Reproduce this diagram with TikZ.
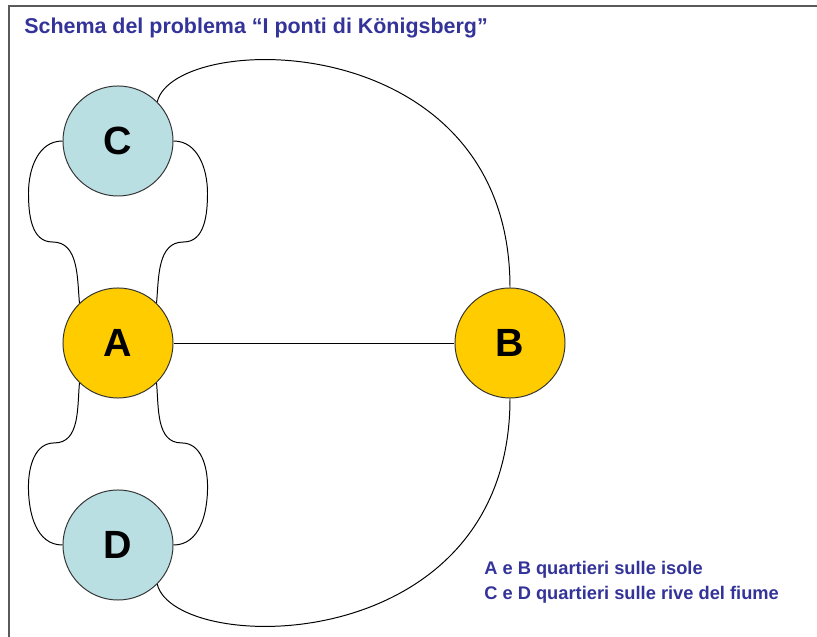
\documentclass[tikz,border=0pt]{standalone}
\usepackage{xcolor}
\usepackage{fontspec}
\setmainfont{Liberation Sans}
\usepackage{tikz}
\usetikzlibrary{positioning,calc}
\definecolor{titleBlue}{RGB}{51,51,153}
\definecolor{isleGold}{RGB}{255,204,0}
\definecolor{bankCyan}{RGB}{185,223,227}
\definecolor{frameGray}{RGB}{90,90,90}
\tikzset{
  isle/.style={draw=black!80,circle,minimum size=2.75cm,inner sep=0pt,line width=0.7pt,
               fill=isleGold,font=\fontsize{28}{30}\selectfont\bfseries},
  bank/.style={draw=black!80,circle,minimum size=2.75cm,inner sep=0pt,line width=0.7pt,
               fill=bankCyan,font=\fontsize{28}{30}\selectfont\bfseries},
  bridge/.style={line width=0.7pt,black},
  legend/.style={anchor=base west,inner sep=0pt,text=titleBlue,
                 font=\fontsize{13}{15}\selectfont\bfseries},
}

\begin{document}
\begin{tikzpicture}[x=0.025cm,y=0.025cm]
  \useasboundingbox (0,0) rectangle (817,637);
  % frame
  \draw[frameGray,line width=1.4pt](9,0)--(9,631)--(817,631);
  \node[anchor=base west,inner sep=0pt,text=titleBlue,
        font=\fontsize{15.25}{17}\selectfont\bfseries] (title) at (24,603)
        {Schema del problema “I ponti di Königsberg”};

  % quartieri
  \node[bank] (C) at (118,496){C};
  \node[isle] (A) at (118,294){A};
  \node[bank] (D) at (118,92){D};
  \node[isle] (B) at (510,294){B};

  % ponti
  \draw[bridge](A)--(B);
  \draw[bridge](C.180) to[out=180,in=90] ++(-34,-52) to[out=-90,in=180] ++(24,-49)
               to[out=0,in=95] (A.134);
  \draw[bridge](C.0) to[out=0,in=90] ++(34,-52) to[out=-90,in=0] ++(-24,-49)
               to[out=180,in=85] (A.46);
  \draw[bridge](A.226) to[out=265,in=0] ++(-25,-60) to[out=180,in=90] ++(-26,-44)
               to[out=-90,in=180] (D.180);
  \draw[bridge](A.-46) to[out=275,in=180] ++(25,-60) to[out=0,in=90] ++(26,-44)
               to[out=-90,in=0] (D.0);
  \draw[bridge](C.45) .. controls +(18,72) and +(0,262) .. (B.90);
  \draw[bridge](D.-45) .. controls +(18,-72) and +(0,-262) .. (B.-90);

  % legenda
  \node[legend] (leg1) at (484,62){A e B quartieri sulle isole};
  \node[legend] (leg2) at (484,37){C e D quartieri sulle rive del fiume};
\end{tikzpicture}
\end{document}
